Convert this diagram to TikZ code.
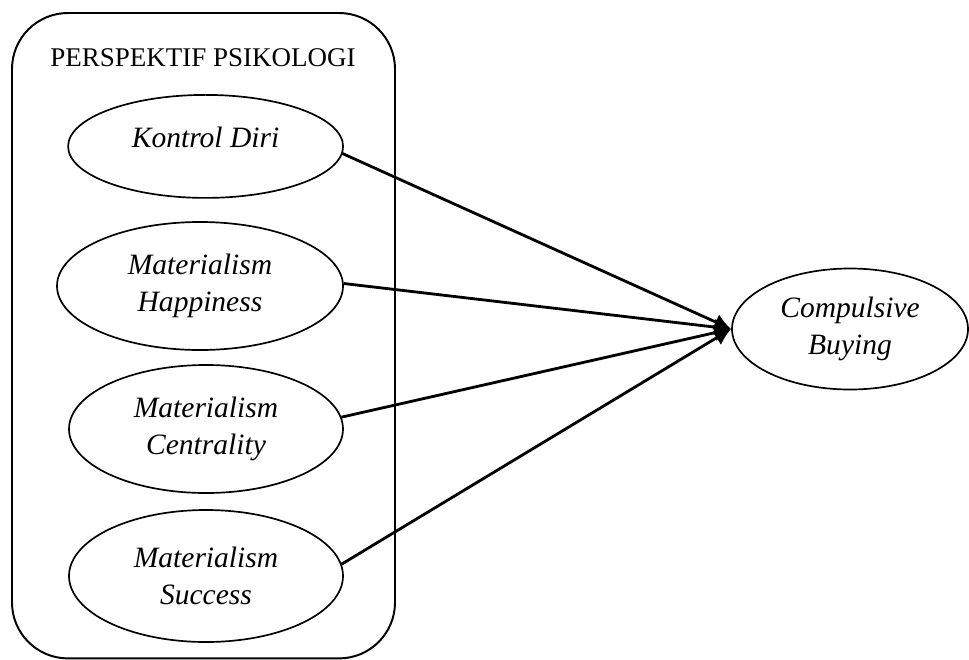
\documentclass[tikz,border=0pt]{standalone}
\usepackage{fontspec}
\setmainfont{Liberation Serif}
\usetikzlibrary{shapes.geometric,arrows.meta}
\begin{document}
\begin{tikzpicture}[
    kelompok/.style={
      draw,
      rounded corners=1.4cm,
      line width=1.4pt,
      minimum width=9.575cm,
      minimum height=16.135cm
    },
    variabel/.style={
      ellipse,
      draw,
      line width=1.2pt,
      inner sep=0pt,
      align=center,
      font=\fontsize{21}{26.3}\selectfont\itshape
    },
    pengaruh/.style={
      line width=2pt,
      -{Latex[length=12pt,width=12pt]}
    }
  ]
    \useasboundingbox (0,0) rectangle (24.225,-16.475);
    \node[kelompok] (psikologi) at (5.0875,-8.3925) {};
    \node[anchor=base,font=\fontsize{19.2}{22}\selectfont] (judul) at (5.075,-1.65) {PERSPEKTIF PSIKOLOGI};
    \node[variabel,minimum width=6.875cm,minimum height=2.575cm,text depth=0.45cm] (kontrol) at (5.14,-3.66) {Kontrol Diri};
    \node[variabel,minimum width=7.15cm,minimum height=3.2cm] (happiness) at (5.0,-7.15) {Materialism\\Happiness};
    \node[variabel,minimum width=6.85cm,minimum height=3.2cm] (centrality) at (5.15,-10.725) {Materialism\\Centrality};
    \node[variabel,minimum width=6.85cm,minimum height=3.3cm] (success) at (5.15,-14.4) {Materialism\\Success};
    \node[variabel,minimum width=5.9cm,minimum height=3.025cm] (buying) at (21.25,-8.225) {Compulsive\\Buying};
    \draw[pengaruh] (kontrol.-3) -- (buying.west);
    \draw[pengaruh] (happiness.1) -- (buying.west);
    \draw[pengaruh] (centrality.5) -- (buying.west);
    \draw[pengaruh] (success.5) -- (buying.west);
\end{tikzpicture}
\end{document}
